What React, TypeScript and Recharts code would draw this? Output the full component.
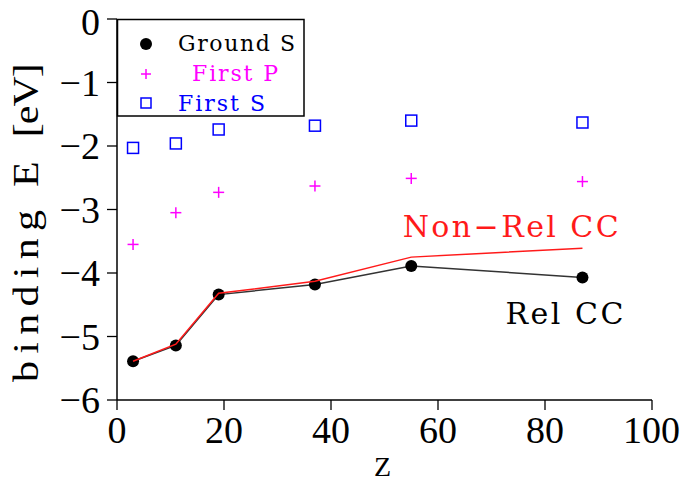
import React from 'react';
import {
  ScatterChart,
  Scatter,
  XAxis,
  YAxis,
  ReferenceDot,
} from 'recharts';

// ---- data ----
const atomicNumbers = [3, 11, 19, 37, 55, 87];
const groundS = [-5.39, -5.14, -4.34, -4.18, -3.89, -4.07];
const firstP = [-3.55, -3.05, -2.73, -2.63, -2.51, -2.56];
const firstS = [-2.03, -1.96, -1.74, -1.68, -1.6, -1.63];
const nonRelCC = [-5.39, -5.12, -4.32, -4.13, -3.75, -3.61];
const xTicks = [0, 20, 40, 60, 80, 100];
const yTicks = [-6, -5, -4, -3, -2, -1, 0];
const legendLabels = ['Ground S', 'First P', 'First S'];
const annotationNonRel = 'Non\u2212Rel CC';
const annotationRel = 'Rel CC';

const toPoints = (ys: number[]) => atomicNumbers.map((z, i) => ({ z, e: ys[i] }));
const groundData = toPoints(groundS);
const firstPData = toPoints(firstP);
const firstSData = toPoints(firstS);
const nonRelData = toPoints(nonRelCC);

const SERIF = "'Liberation Serif', 'Times New Roman', serif";
const TT = "'DejaVu Serif', serif";
const MAGENTA = '#ff00ff';
const BLUE = '#0000ff';
const RED = '#ff1a1a';

const fmt = (v: number) => (v < 0 ? '\u2212' + Math.abs(v) : String(v));

const Circle = (p: any) => <circle cx={p.cx} cy={p.cy} r={6} fill="#000" />;
const Plus = (p: any) => (
  <g stroke={MAGENTA} strokeWidth={1.5}>
    <line x1={p.cx - 5.5} y1={p.cy} x2={p.cx + 5.5} y2={p.cy} />
    <line x1={p.cx} y1={p.cy - 5.5} x2={p.cx} y2={p.cy + 5.5} />
  </g>
);
const Square = (p: any) => (
  <rect x={p.cx - 5.5} y={p.cy - 5.5} width={11} height={11} fill="none" stroke={BLUE} strokeWidth={1.5} />
);
const NoShape = () => <g />;

const tickStyle = { fontFamily: SERIF, fontSize: 38, fill: '#000' };
const axisLine = { stroke: '#000', strokeWidth: 1.5 };
const tickLine = { stroke: '#000', strokeWidth: 1.3 };

const annot = (text: string, color: string, len: number) => (props: any) => {
  const vb = props.viewBox || {};
  const x = vb.x + (vb.width || 0) / 2;
  const y = vb.y + (vb.height || 0) / 2;
  return (
    <text
      x={x}
      y={y}
      textAnchor="start"
      fontFamily={TT}
      fontSize={30}
      fill={color}
      textLength={len}
      lengthAdjust="spacing"
      style={{ whiteSpace: 'pre' }}
    >
      {text}
    </text>
  );
};

const YLabel = (props: any) => {
  const vb = props.viewBox || { x: 0, y: 19, width: 117, height: 381 };
  const bottom = vb.y + vb.height - 18;
  return (
    <g transform={`translate(38,${bottom}) rotate(-90) scale(1.2,1)`} fontFamily={SERIF} fontSize={35} fill="#000">
      <text x={0} y={0} textLength={143.3} lengthAdjust="spacing">
        binding
      </text>
      <text x={162.5} y={0}>
        E
      </text>
      <text x={204} y={0} textLength={61.7} lengthAdjust="spacing">
        [eV]
      </text>
    </g>
  );
};

const XLabel = (props: any) => {
  const vb = props.viewBox || { x: 117, y: 400, width: 535, height: 81 };
  return (
    <text x={vb.x + vb.width / 2 - 2} y={476} textAnchor="middle" fontFamily={SERIF} fontSize={28} fill="#000">
      Z
    </text>
  );
};

const legendColors = ['#000', MAGENTA, BLUE];
const legendX = [178, 192, 178];
const legendLen = [117, 86, 87];

const Legend = () => (
  <svg width={680} height={481} style={{ position: 'absolute', left: 0, top: 0, pointerEvents: 'none' }}>
    <rect x={117.5} y={19.5} width={186.5} height={96.5} fill="#fff" stroke="#000" strokeWidth={1.5} />
    <circle cx={146} cy={44} r={6} fill="#000" />
    <g stroke={MAGENTA} strokeWidth={1.5}>
      <line x1={141} y1={74} x2={151} y2={74} />
      <line x1={146} y1={69} x2={146} y2={79} />
    </g>
    <rect x={141} y={98} width={10} height={10} fill="none" stroke={BLUE} strokeWidth={1.5} />
    {legendLabels.map((t, i) => (
      <text
        key={i}
        x={legendX[i]}
        y={51 + i * 30}
        fontFamily={TT}
        fontSize={22}
        fill={legendColors[i]}
        textLength={legendLen[i]}
        lengthAdjust="spacing"
      >
        {t}
      </text>
    ))}
  </svg>
);

export default function App() {
  return (
    <div style={{ position: 'absolute', left: 0, top: 0, width: 680, height: 481, background: '#fff' }}>
      <ScatterChart width={680} height={481} margin={{ top: 19, right: 28, bottom: 0, left: 0 }}>
        <XAxis
          type="number"
          dataKey="z"
          domain={[0, 100]}
          ticks={xTicks}
          allowDataOverflow
          height={81}
          tickSize={10}
          tickMargin={6}
          tick={tickStyle}
          axisLine={axisLine}
          tickLine={tickLine}
          label={<XLabel />}
        />
        <XAxis
          xAxisId="top"
          orientation="top"
          type="number"
          domain={[0, 100]}
          ticks={xTicks}
          height={0}
          tickSize={10}
          tickFormatter={() => ''}
          axisLine={axisLine}
          tickLine={tickLine}
        />
        <YAxis
          type="number"
          dataKey="e"
          domain={[-6, 0]}
          ticks={yTicks}
          allowDataOverflow
          width={117}
          tickSize={10}
          tickMargin={7}
          tick={tickStyle}
          tickFormatter={fmt}
          axisLine={axisLine}
          tickLine={tickLine}
          label={<YLabel />}
        />
        <YAxis
          yAxisId="right"
          orientation="right"
          type="number"
          domain={[-6, 0]}
          ticks={yTicks}
          width={0}
          tickSize={10}
          tickFormatter={() => ''}
          axisLine={axisLine}
          tickLine={tickLine}
        />
        <Scatter data={firstSData} shape={Square} isAnimationActive={false} />
        <Scatter data={firstPData} shape={Plus} isAnimationActive={false} />
        <Scatter
          data={groundData}
          shape={Circle}
          line={{ stroke: '#333', strokeWidth: 1.5 }}
          lineType="joint"
          isAnimationActive={false}
        />
        <Scatter
          data={nonRelData}
          shape={NoShape}
          line={{ stroke: RED, strokeWidth: 1.5 }}
          lineType="joint"
          isAnimationActive={false}
        />
        <ReferenceDot x={53.4} y={-3.43} r={0} fill="none" stroke="none" label={annot(annotationNonRel, RED, 216)} />
        <ReferenceDot x={72.6} y={-4.8} r={0} fill="none" stroke="none" label={annot(annotationRel, '#000', 118)} />
      </ScatterChart>
      <Legend />
    </div>
  );
}
